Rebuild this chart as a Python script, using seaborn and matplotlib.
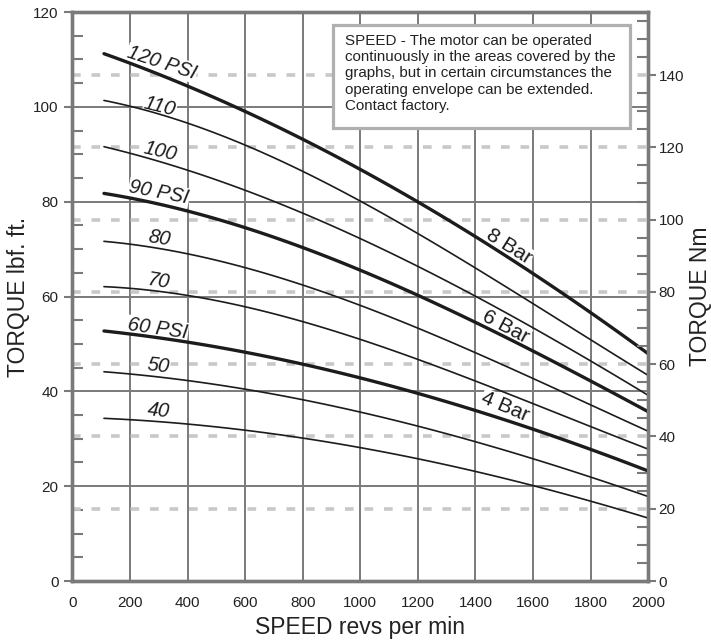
import numpy as np
import pandas as pd
import matplotlib.pyplot as plt
from matplotlib.ticker import MultipleLocator
from matplotlib.patches import Rectangle
import seaborn as sns

# speed points (rev/min) and torque curves (lbf ft)
speed = [110, 200, 400, 600, 800, 1000, 1200, 1400, 1600, 1800, 2000]
t120 = [111.3, 108.9, 104.4, 99.7, 93.0, 86.5, 79.8, 72.3, 65.2, 57.0, 47.6]
t110 = [101.7, 99.9, 96.2, 92.0, 86.4, 80.5, 73.3, 66.0, 58.2, 50.8, 43.5]
t100 = [91.8, 90.2, 86.4, 82.1, 77.6, 72.6, 66.7, 60.0, 53.0, 46.2, 39.4]
t90 = [81.8, 80.6, 78.3, 74.4, 70.2, 65.6, 60.3, 54.6, 48.4, 42.2, 35.7]
t80 = [71.6, 71.0, 69.1, 66.2, 62.4, 58.0, 53.2, 48.2, 42.8, 37.2, 31.5]
t70 = [62.2, 61.6, 60.1, 58.0, 54.8, 50.8, 46.7, 42.3, 37.3, 32.6, 27.8]
t60 = [52.6, 52.1, 50.6, 48.4, 45.6, 42.6, 39.5, 36.0, 32.2, 27.8, 23.1]
t50 = [44.0, 43.8, 42.4, 40.3, 38.2, 35.7, 32.6, 29.4, 25.8, 21.9, 17.8]
t40 = [34.3, 34.0, 33.1, 31.9, 30.2, 28.0, 25.7, 23.1, 20.2, 16.9, 13.2]

pressures = [120, 110, 100, 90, 80, 70, 60, 50, 40]
curves = [t120, t110, t100, t90, t80, t70, t60, t50, t40]
psi_labels = ['120 PSI', '110', '100', '90 PSI', '80', '70', '60 PSI', '50', '40']
bar_labels = ['8 Bar', '6 Bar', '4 Bar']

note = ("SPEED - The motor can be operated\n"
        "continuously in the areas covered by the\n"
        "graphs, but in certain circumstances the\n"
        "operating envelope can be extended.\n"
        "Contact factory.")

nm_factor = 1.312  # right axis scale as drawn on the chart

df = pd.DataFrame({
    'speed': np.tile(speed, len(pressures)),
    'torque': np.concatenate(curves),
    'psi': np.repeat(pressures, len(speed)),
})

sns.set_theme(style='white')
plt.rcParams['font.family'] = ['Liberation Sans', 'DejaVu Sans']

grey = '#7a7a7a'
ink = '#1c1c1c'

fig = plt.figure(figsize=(7.11, 6.42), dpi=100)
ax = fig.add_axes([0.1017, 0.095, 0.8101, 0.8863])

# smooth cubic fit through each set of read points
for p in pressures:
    sub = df[df['psi'] == p]
    lw = 2.4 if p in (120, 90, 60) else 1.2
    sns.regplot(data=sub, x='speed', y='torque', ax=ax, order=3, ci=None,
                scatter=False, truncate=True,
                line_kws=dict(color=ink, linewidth=lw, zorder=5))

ax.set_xlim(0, 2000)
ax.set_ylim(0, 120)

# solid grid for lbf/rpm, dashed light lines for Nm majors
for xv in range(200, 2000, 200):
    ax.axvline(xv, color=grey, lw=1.4, zorder=1)
for yv in range(20, 120, 20):
    ax.axhline(yv, color=grey, lw=1.4, zorder=1)
for nm in range(20, 160, 20):
    ax.axhline(nm / nm_factor, color='#c8c8c8', lw=2.6, dashes=(2.4, 3.0), zorder=1.5)

# curve labels
psi_pos = [(311, 109.3, -18), (304, 100.0, -14), (304, 90.5, -13),
           (301, 81.9, -11), (301, 72.2, -9), (299, 63.1, -9),
           (296, 53.2, -8), (299, 45.4, -7), (299, 35.9, -6)]
for lab, (x, y, r) in zip(psi_labels, psi_pos):
    ax.text(x, y, lab, fontsize=14.5, style='italic', color=ink, rotation=r,
            ha='center', va='center', zorder=3,
            bbox=dict(facecolor='white', edgecolor='none', pad=0.5))

bar_pos = [(1517, 70.5, -32), (1506, 53.6, -28), (1503, 36.7, -23)]
for lab, (x, y, r) in zip(bar_labels, bar_pos):
    ax.text(x, y, lab, fontsize=15, color=ink, rotation=r,
            ha='center', va='center', zorder=3,
            bbox=dict(facecolor='white', edgecolor='none', pad=0.5))

# note box
ax.add_patch(Rectangle((0.4526, 0.7961), 0.5156, 0.1811, transform=ax.transAxes,
                       facecolor='white', edgecolor='#b0b0b0', lw=2.3, zorder=6))
ax.text(0.4734, 0.962, note, transform=ax.transAxes, fontsize=10.9,
        color='#222222', ha='left', va='top', linespacing=1.22, zorder=7)

# ticks
ax.set_xticks(range(0, 2001, 200))
ax.xaxis.set_minor_locator(MultipleLocator(100))
ax.set_yticks(range(0, 121, 20))
ax.yaxis.set_minor_locator(MultipleLocator(5))
ax.tick_params(axis='both', which='major', direction='out', color=grey, width=1.5,
               labelsize=11, labelcolor='#222222')
ax.tick_params(axis='x', which='major', length=3, pad=8)
ax.tick_params(axis='y', which='major', length=5.8, pad=4)
ax.tick_params(axis='both', which='minor', direction='in', color=grey, width=1.5, length=8)

for s in ax.spines.values():
    s.set_color(grey)
    s.set_linewidth(2.4)

ax.set_xlabel('SPEED revs per min', fontsize=16.5, color='#222222', va='center')
ax.set_ylabel('TORQUE lbf. ft.', fontsize=16.5, color='#222222', va='center')
ax.xaxis.set_label_coords(0.5, -0.081)
ax.yaxis.set_label_coords(-0.094, 0.5)

ax2 = ax.twinx()
ax2.set_ylim(0, 120 * nm_factor)
ax2.set_yticks(range(0, 141, 20))
ax2.yaxis.set_minor_locator(MultipleLocator(5))
ax2.tick_params(axis='y', which='major', direction='out', length=5.8, width=1.5,
                color=grey, labelsize=11, labelcolor='#222222', pad=1.5)
ax2.tick_params(axis='y', which='minor', direction='in', length=8, width=1.5, color=grey)
for s in ax2.spines.values():
    s.set_color(grey)
    s.set_linewidth(2.4)
ax2.set_ylabel('TORQUE Nm', fontsize=16.5, color='#222222', va='center')
ax2.yaxis.set_label_coords(1.091, 0.5)
ax2.grid(False)

fig.savefig('out.png', dpi=100, facecolor='white')
